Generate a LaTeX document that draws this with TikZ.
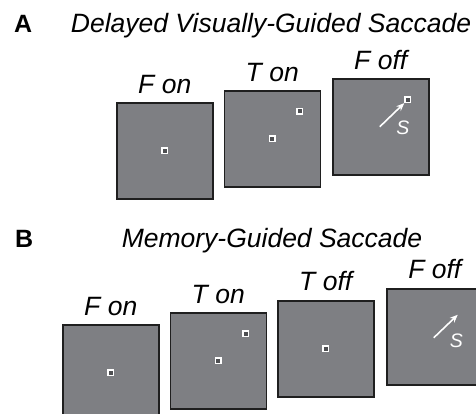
\documentclass[tikz,border=0pt]{standalone}
\usepackage{fontspec}
\setmainfont{Liberation Sans}
\usetikzlibrary{arrows.meta}
\tikzset{
  screen/.style={draw=black!88, line width=1.5pt, fill=screengray,
    minimum width=96pt, minimum height=96pt, inner sep=0pt, anchor=north west},
  spot/.style={draw=white, line width=1.7pt, fill=spotgray,
    minimum size=5.3pt, inner sep=0pt},
  cue/.style={font=\fontsize{26.5}{30}\selectfont\itshape, anchor=base, inner sep=0pt},
  heading/.style={font=\fontsize{26.5}{30}\selectfont\itshape, anchor=base, inner sep=0pt},
  panel/.style={font=\fontsize{25}{30}\selectfont\bfseries, anchor=base west, inner sep=0pt},
  sacc/.style={draw=white, line width=1.6pt, -{Stealth[length=8pt,width=6.5pt]}},
  slabel/.style={font=\fontsize{19.5}{22}\selectfont\itshape, text=white, anchor=base, inner sep=0pt}
}
\definecolor{screengray}{HTML}{7E7F83}
\definecolor{spotgray}{HTML}{4E4F52}
\begin{document}
\begin{tikzpicture}[x=1pt,y=-1pt]
\useasboundingbox (0,0) rectangle (476,413);
\clip (0,0) rectangle (476,413);

% ---------- Panel A: delayed visually-guided saccade ----------
\node[panel] (pa) at (14,32.5) {A};
\node[heading] (ta) at (271,32.5) {Delayed Visually-Guided Saccade};

\node[screen] (a1) at (116,102) {};
\node[screen] (a2) at (223.5,90) {};
\node[screen] (a3) at (332,78) {};

\node[cue] (la1) at ([yshift=9pt]a1.north) {F on};
\node[cue] (la2) at ([yshift=8.5pt]a2.north) {T on};
\node[cue] (la3) at ([yshift=8.5pt]a3.north) {F off};

\node[spot] (fa1) at (a1.center) {};
\node[spot] (fa2) at (a2.center) {};
\node[spot] (ta2) at ([shift={(27.5,-27.5)}]a2.center) {};
\node[spot] (ta3) at ([shift={(27,-27)}]a3.center) {};

\coordinate (sa) at ([shift={(-1,0)}]a3.center);
\draw[sacc] (sa) -- (ta3);
\node[slabel] (sla) at ([shift={(22,8)}]a3.center) {S};

% ---------- Panel B: memory-guided saccade ----------
\node[panel] (pb) at (15,247) {B};
\node[heading] (tb) at (272,247) {Memory-Guided Saccade};

\node[screen] (b1) at (62,324) {};
\node[screen] (b2) at (169.5,312) {};
\node[screen] (b3) at (277,300) {};
\node[screen] (b4) at (386,288) {};

\node[cue] (lb1) at ([yshift=9pt]b1.north) {F on};
\node[cue] (lb2) at ([yshift=9pt]b2.north) {T on};
\node[cue] (lb3) at ([yshift=10pt]b3.north) {T off};
\node[cue] (lb4) at ([yshift=10pt]b4.north) {F off};

\node[spot] (fb1) at (b1.center) {};
\node[spot] (fb2) at (b2.center) {};
\node[spot] (tb2) at ([shift={(27.5,-27)}]b2.center) {};
\node[spot] (fb3) at (b3.center) {};

\coordinate (sb0) at ([shift={(-1,1)}]b4.center);
\coordinate (sb1) at ([shift={(23,-22)}]b4.center);
\draw[sacc] (sb0) -- (sb1);
\node[slabel] (slb) at ([shift={(21.5,11)}]b4.center) {S};
\end{tikzpicture}
\end{document}
